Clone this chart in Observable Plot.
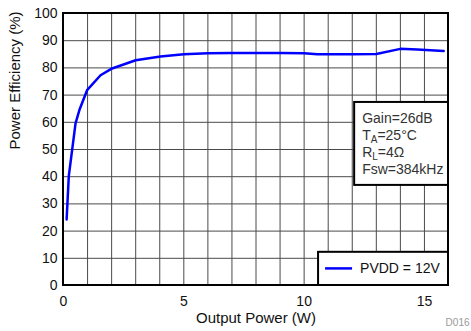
<!DOCTYPE html>
<html>
<head>
<meta charset="utf-8">
<script src="https://cdn.jsdelivr.net/npm/d3@7"></script>
<script src="https://cdn.jsdelivr.net/npm/@observablehq/plot@0.6"></script>
<style>
  html, body { margin: 0; padding: 0; background: #fff; }
</style>
</head>
<body>
<div id="chart"></div>
<script>
// ---- data ----
const outputPower = [0.13, 0.22, 0.5, 0.66, 0.98, 1.54, 2.02, 3.0, 4.03, 5.0, 6.0, 7.0, 8.0, 9.0, 10.0, 10.55, 12.0, 13.0, 14.0, 14.7, 15.8];
const efficiency  = [24.3, 40.2, 59.6, 64.5, 71.8, 77.3, 79.8, 82.8, 84.2, 85.0, 85.4, 85.5, 85.5, 85.5, 85.4, 85.0, 85.0, 85.1, 87.0, 86.8, 86.2];
const seriesName = "PVDD = 12V";
const xTicks = [0, 5, 10, 15];
const yTicks = [0, 10, 20, 30, 40, 50, 60, 70, 80, 90, 100];
const xGrid = [0, 1, 2, 3, 4, 5, 6, 7, 8, 9, 10, 11, 12, 13, 14, 15, 16];
const xLabel = "Output Power (W)";
const yLabel = "Power Efficiency (%)";
const figId = "D016";
// conditions box lines: [main, subscript, rest]
const conditions = [
  ["Gain=26dB", "", ""],
  ["T", "A", "=25°C"],
  ["R", "L", "=4Ω"],
  ["Fsw=384kHz", "", ""]
];

const rows = outputPower.map((x, i) => ({x, y: efficiency[i], s: seriesName}));
const font = "'Liberation Sans', Arial, sans-serif";

const plot = Plot.plot({
  width: 471,
  height: 331,
  marginLeft: 63,
  marginRight: 23,
  marginTop: 13,
  marginBottom: 46,
  style: {fontFamily: font, fontSize: "14px", background: "#fff", color: "#111"},
  x: {domain: [0, 16]},
  y: {domain: [0, 100]},
  marks: [
    Plot.ruleX(xGrid, {x: d => d, stroke: "#4a4a4a", strokeWidth: 1}),
    Plot.ruleY(yTicks, {y: d => d, stroke: "#4a4a4a", strokeWidth: 1}),
    Plot.axisX(xTicks, {tickSize: 0, tickPadding: 11, label: null, fontSize: 14, fill: "#111"}),
    Plot.axisY(yTicks, {tickSize: 0, tickPadding: 6, label: null, fontSize: 14, fill: "#111"}),
    Plot.line(rows, {x: "x", y: "y", stroke: "#0000ff", strokeWidth: 2.5, curve: "linear"}),
    Plot.text([xLabel], {frameAnchor: "bottom", dy: 37, fontSize: 15, fill: "#111"}),
    Plot.text([yLabel], {frameAnchor: "left", dx: -48, rotate: -90, fontSize: 15, fill: "#111"}),
    Plot.text([figId], {frameAnchor: "bottom-right", textAnchor: "end", dx: 21, dy: 40, fontSize: 10, fill: "#999"})
  ]
});

document.getElementById("chart").appendChild(plot);

const svg = d3.select(plot);
const sx = plot.scale("x"), sy = plot.scale("y");
const X = v => sx.apply(v), Y = v => sy.apply(v);

// conditions box
const bx1 = X(12.1), bx2 = X(16), by1 = Y(67.3), by2 = Y(36.8);
svg.append("rect").attr("x", bx1).attr("y", by1).attr("width", bx2 - bx1).attr("height", by2 - by1)
  .attr("fill", "#fff").attr("stroke", "#000").attr("stroke-width", 2);
const tg = svg.append("g").attr("font-family", font).attr("font-size", 14).attr("fill", "#333").attr("text-anchor", "start");
conditions.forEach((c, i) => {
  const t = tg.append("text").attr("x", bx1 + 8).attr("y", by1 + 21 + i * 17);
  t.append("tspan").text(c[0]);
  if (c[1]) {
    t.append("tspan").attr("font-size", 10).attr("dy", 3).text(c[1]);
    t.append("tspan").attr("dy", -3).text(c[2]);
  }
});

// legend box
const lx1 = X(10.6), lx2 = X(16), ly1 = Y(12.2), ly2 = Y(0);
svg.append("rect").attr("x", lx1).attr("y", ly1).attr("width", lx2 - lx1).attr("height", ly2 - ly1)
  .attr("fill", "#fff").attr("stroke", "#000").attr("stroke-width", 2);
const lyMid = (ly1 + ly2) / 2;
svg.append("line").attr("x1", lx1 + 7).attr("x2", lx1 + 34).attr("y1", lyMid).attr("y2", lyMid)
  .attr("stroke", "#0000ff").attr("stroke-width", 2.5);
svg.append("text").attr("x", lx1 + 42).attr("y", lyMid).attr("dy", "0.35em").attr("text-anchor", "start")
  .attr("font-family", font).attr("font-size", 14).attr("fill", "#111").text(seriesName);

// frame on top
const fx1 = X(0), fx2 = X(16), fy1 = Y(100), fy2 = Y(0);
svg.append("rect").attr("x", fx1).attr("y", fy1).attr("width", fx2 - fx1).attr("height", fy2 - fy1)
  .attr("fill", "none").attr("stroke", "#000").attr("stroke-width", 2);
</script>
</body>
</html>
